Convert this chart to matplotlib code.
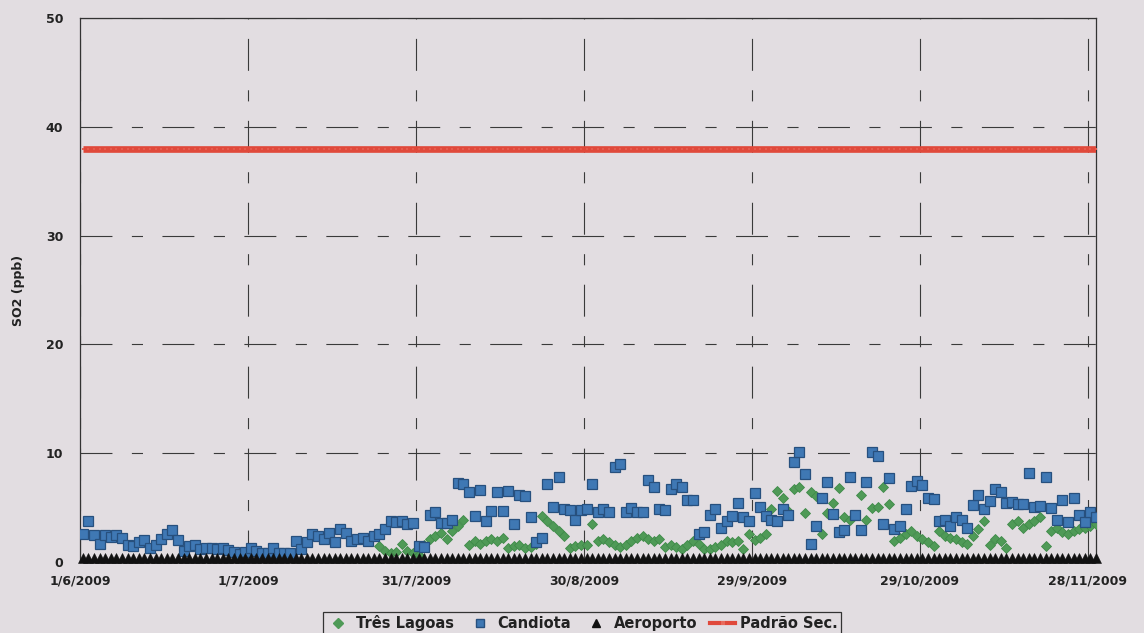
import numpy as np
import pandas as pd
import matplotlib
matplotlib.use("Agg")
import matplotlib.pyplot as plt
from matplotlib.lines import Line2D

# Daily SO2 means (ppb), 1 Jun 2009 - 29 Nov 2009
start_date = "2009-06-01"
n_days = 182

candiota = [
    2.6, 3.8, 2.5, 1.7, 2.5, 2.3, 2.5, 2.2, 1.6, 1.5, 1.8, 2.0, 1.3, 1.6, 2.1, 2.6,
    2.9, 2.0, 1.0, 1.5, 1.6, 1.2, 1.3, 1.3, 1.2, 1.3, 1.1, 0.9, 0.7, 0.9, 1.25,
    1.0, 0.85, 0.85, 1.3, 0.85, 0.85, 0.85,
    1.9, 1.2, 1.8, 2.55, 2.4, 2.1, 2.7, 1.8, 3.0, 2.7, 1.9, 2.1, 2.2, 1.9, 2.4,
    2.55, 3.0, 3.8, 3.7, 3.8, 3.5, 3.6, 1.5, 1.4, 4.3, 4.6,
    3.6, 3.6, 3.9, 7.3, 7.2, 6.4, 4.2, 6.6, 3.8, 4.7, 6.4, 4.7, 6.5, 3.5, 6.2,
    6.1, 4.1, 1.8, 2.25, 7.15, 5.05, 7.8, 4.85, 4.8, 3.9, 4.8, 4.85,
    7.15, 4.55, 4.85, 4.55, 8.75, 9.05, 4.6, 5.0, 4.55, 4.6, 7.5, 6.9, 4.85, 4.8,
    6.7, 7.15, 6.9, 5.7, 5.7, 2.55, 2.8, 4.3, 4.9, 3.1, 3.8, 4.2, 5.4, 4.15, 3.8,
    6.3, 5.1,
    4.2, 3.9, 3.8, 4.9, 4.3, 9.2, 10.15, 8.1, 1.7, 3.3, 5.85, 7.35, 4.45, 2.75,
    2.9, 7.85, 4.3, 2.9, 7.35, 10.15, 9.75, 3.5, 7.7, 3.05, 3.3, 4.9, 7.0, 7.4, 7.1,
    5.9,
    5.8, 3.8, 3.85, 3.3, 4.15, 3.85, 3.15, 5.25, 6.15, 4.85, 5.6, 6.7, 6.45, 5.45,
    5.5, 5.3, 5.3, 8.2, 5.1, 5.15, 7.8, 5.0, 3.85, 5.7, 3.7, 5.9, 4.3, 3.7, 4.6, 4.15,
]

# Três Lagoas station starts reporting on day 53 (23 Jul 2009)
tres_lagoas_first_day = 53
tres_lagoas = [
    1.5, 1.0, 0.8, 0.9, 1.7, 1.0, 0.8, 0.6,
    1.6, 2.1, 2.4, 2.7, 2.1, 2.85, 3.3, 3.85, 1.6, 1.95,
    1.7, 1.95, 2.1, 1.95, 2.25, 1.3, 1.5, 1.6, 1.3, 1.4,
    1.7, 4.2, 3.75, 3.3, 2.85, 2.4, 1.3, 1.5, 1.6, 1.55,
    3.5, 1.95, 2.1, 1.8, 1.6, 1.35, 1.6, 1.95, 2.25, 2.4,
    2.1, 1.95, 2.1, 1.35, 1.6, 1.35, 1.2, 1.6, 1.95, 1.7,
    1.2, 1.2, 1.35, 1.6, 1.95, 1.8, 1.95, 1.2, 2.55, 2.0,
    2.2, 2.6, 4.9, 6.5, 5.9, 4.7, 6.7, 6.9, 4.5, 6.4,
    6.1, 2.55, 4.5, 5.45, 6.8, 4.1, 3.9, 4.3, 6.2, 3.9,
    5.0, 5.1, 6.9, 5.3, 1.9, 2.25, 2.55, 2.85, 2.4, 2.1,
    1.8, 1.5, 2.85, 2.4, 2.25, 2.1, 1.8, 1.7, 2.4, 3.0,
    3.75, 1.6, 2.1, 1.95, 1.3, 3.45, 3.75, 3.15, 3.45, 3.75,
    4.1, 1.5, 2.85, 3.1, 2.8, 2.55, 2.85, 3.0, 3.15, 3.3, 3.45,
]

aeroporto_level = 0.35     # Aeroporto stays near zero all period
padrao_sec_level = 38.0    # secondary air-quality standard

tick_dates = ["2009-06-01", "2009-07-01", "2009-07-31", "2009-08-30",
              "2009-09-29", "2009-10-29", "2009-11-28"]
tick_labels = ["1/6/2009", "1/7/2009", "31/7/2009", "30/8/2009",
               "29/9/2009", "29/10/2009", "28/11/2009"]
y_ticks = [0, 10, 20, 30, 40, 50]

# ---------------------------------------------------------------------------
bg = "#e2dde1"
ink = "#222222"
red = "#e0493b"
plt.rcParams["lines.scale_dashes"] = False
plt.rcParams["font.family"] = ["DejaVu Sans"]

days = pd.date_range(start_date, periods=n_days, freq="D") + pd.Timedelta(hours=12)
tl = np.full(n_days, np.nan)
tl[tres_lagoas_first_day:tres_lagoas_first_day + len(tres_lagoas)] = tres_lagoas
aero = np.full(n_days, aeroporto_level)
padrao = np.full(n_days, padrao_sec_level)

fig = plt.figure(figsize=(11.44, 6.33), dpi=100, facecolor=bg)
ax = fig.add_axes([80 / 1144, 1 - 562 / 633, (1096 - 80) / 1144, (562 - 18) / 633])
ax.set_facecolor(bg)

ax.plot(days, tl, linestyle="none", marker="D", markersize=5,
        color="#4f9a57", markeredgecolor="#3f8a49", markeredgewidth=0.6, zorder=3)
ax.plot(days, candiota, linestyle="none", marker="s", markersize=7,
        color="#3f78b4", markeredgecolor="#27507e", markeredgewidth=0.9, zorder=4)
ax.plot(days, aero, linestyle="none", marker="^", markersize=6.5,
        color="#111111", markeredgecolor="#111111", markeredgewidth=0.4,
        zorder=5, clip_on=False)
ax.plot(days, padrao, color=red, linewidth=4.8, marker="s", markersize=1.6,
        markeredgewidth=0, markerfacecolor="#e55c4e", zorder=6, solid_capstyle="butt")

x0 = pd.Timestamp(start_date)
ax.set_xlim(x0, x0 + pd.Timedelta(days=181.5))
ax.set_ylim(0, 50)

ax.set_xticks(pd.to_datetime(tick_dates))
ax.set_xticklabels(tick_labels)
ax.set_yticks(y_ticks)
ax.tick_params(axis="both", length=0, labelsize=9, colors=ink)
ax.tick_params(axis="x", pad=9)
ax.tick_params(axis="y", pad=12)
for lab in ax.get_xticklabels() + ax.get_yticklabels():
    lab.set_fontweight("bold")

ax.grid(True, color="#3a3a3a", linewidth=0.8, linestyle=(0, (23, 14, 8, 14)))
ax.set_axisbelow(True)

for side in ["left", "right", "top", "bottom"]:
    ax.spines[side].set_color("#333333")
    ax.spines[side].set_linewidth(0.9)

ax.set_ylabel("SO2 (ppb)", fontsize=9, fontweight="bold", color=ink, labelpad=15)

handles = [
    Line2D([], [], linestyle="none", marker="D", markersize=4.6, color="#4f9a57"),
    Line2D([], [], linestyle="none", marker="s", markersize=6, color="#3f78b4",
           markeredgecolor="#27507e"),
    Line2D([], [], linestyle="none", marker="^", markersize=6, color="#111111"),
    Line2D([], [], color=red, linewidth=3, marker="s", markersize=3,
           markerfacecolor="#e86a5c", markeredgewidth=0),
]
labels = ["Três Lagoas", "Candiota", "Aeroporto", "Padrão Sec."]
leg = fig.legend(handles, labels, loc="upper center", ncol=4,
                 bbox_to_anchor=(582 / 1144, 1 - 605 / 633),
                 frameon=True, fancybox=False, edgecolor="#333333",
                 facecolor=bg, framealpha=1,
                 handlelength=1.7, handletextpad=0.35, columnspacing=0.9,
                 borderpad=0.2, prop={"weight": "bold", "size": 10.5})
leg.get_frame().set_linewidth(0.9)
for t in leg.get_texts():
    t.set_color(ink)

fig.savefig("out.png", dpi=100, facecolor=bg)
